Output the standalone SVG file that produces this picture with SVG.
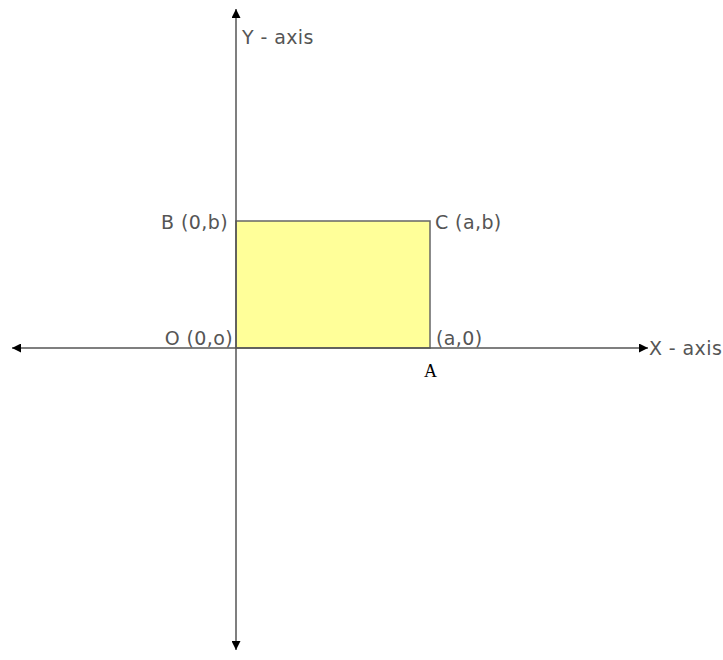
<svg xmlns="http://www.w3.org/2000/svg" width="723" height="660" viewBox="0 0 723 660">
<style>
.axis{stroke:#555;stroke-width:1.5;fill:none}
.lbl{font-family:"DejaVu Sans",Verdana,sans-serif;font-size:19px;letter-spacing:0.4px;fill:#555}
.ser{font-family:"Liberation Serif","Times New Roman",serif;font-size:18px;fill:#000}
</style>
<defs>
<marker id="ah" viewBox="0 0 10 10" refX="10" refY="5" markerWidth="10" markerHeight="9" markerUnits="userSpaceOnUse" orient="auto-start-reverse">
<path d="M0,0 L10,5 L0,10 Z" fill="#000"/>
</marker>
</defs>
<rect width="723" height="660" fill="#fff"/>
<g id="rect">
<rect x="236" y="221" width="194" height="127" fill="#ffff99" stroke="#666" stroke-width="1.5"/>
</g>
<g id="connectors">
<line class="axis" x1="236" y1="650" x2="236" y2="9" marker-start="url(#ah)" marker-end="url(#ah)"/>
<line class="axis" x1="12" y1="348" x2="648" y2="348" marker-start="url(#ah)" marker-end="url(#ah)"/>
</g>
<g id="labels">
<text class="lbl" x="242" y="44">Y - axis</text>
<text class="lbl" x="649" y="355">X - axis</text>
<text class="lbl" x="228" y="229" text-anchor="end">B (0,b)</text>
<text class="lbl" x="435" y="229">C (a,b)</text>
<text class="lbl" x="233" y="345" text-anchor="end">O (0,o)</text>
<text class="lbl" x="436" y="345">(a,0)</text>
<text class="ser" x="424" y="377">A</text>
</g>
</svg>
